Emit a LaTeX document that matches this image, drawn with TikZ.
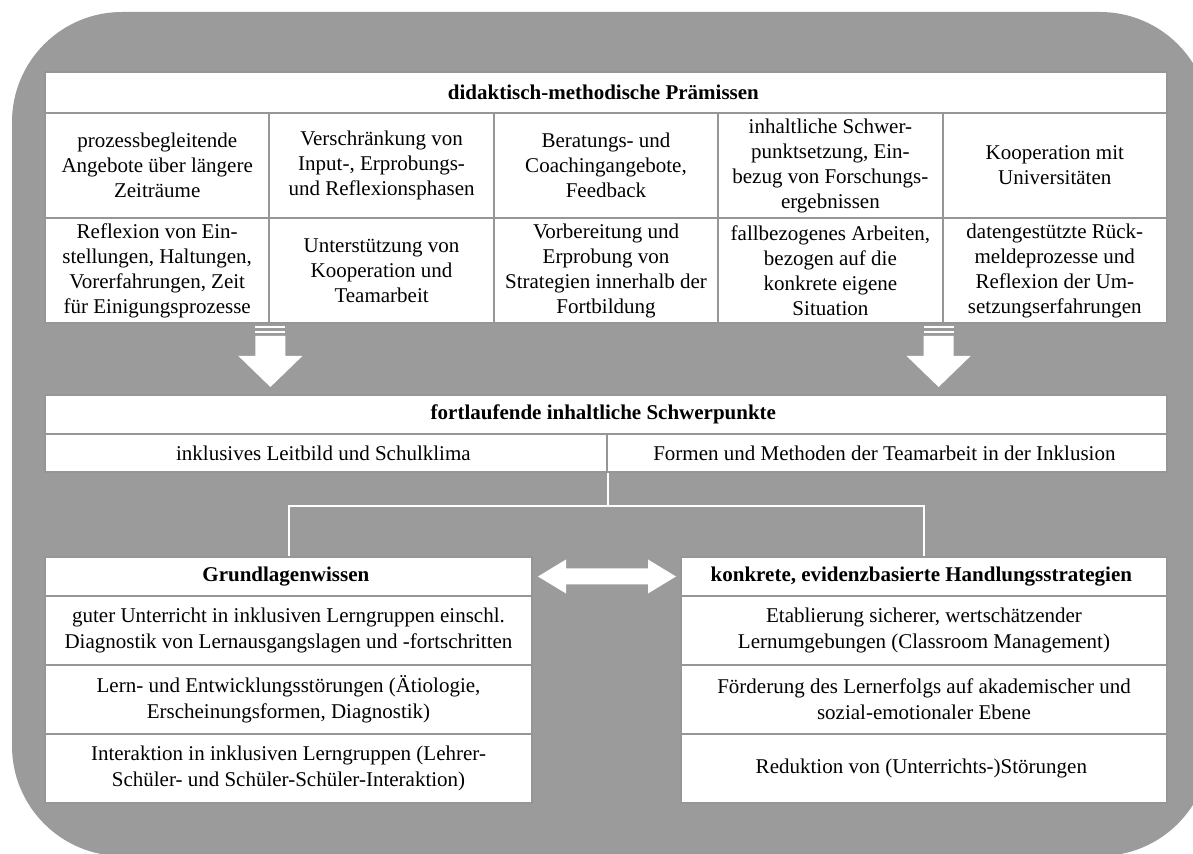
\documentclass[tikz,border=0pt]{standalone}
\usepackage{fontspec}
\setmainfont{Liberation Serif}
\usepackage{tikz}
\usetikzlibrary{positioning}
\usetikzlibrary{calc}
\usepackage{color}
\definecolor{bggrey}{RGB}{155,155,155}
\definecolor{linegrey}{RGB}{150,150,150}

\begin{document}
\begin{tikzpicture}[x=0.5pt, y=-0.5pt,
    cell/.style={rectangle, draw=linegrey, line width=1pt, fill=white, inner sep=0pt,
        align=center, font=\fontsize{10.5}{12.5}\selectfont},
    topcell/.style={cell, minimum width=112.2pt},
    wide/.style={cell, font=\fontsize{10.5}{13}\selectfont},
    conn/.style={white, line width=1pt}]
    \useasboundingbox (0,0) rectangle (1193,854);
    \begin{scope}
        \clip (0,0) rectangle (1193,854);
        \fill[bggrey, rounded corners=55pt] (12,12) rectangle (1210,856);
    \end{scope}

    % didaktisch-methodische Praemissen
    \path
        node (prem) at (606,92.5) [cell, minimum width=561pt, minimum height=20.5pt] { \bf didaktisch-methodische Prämissen }
        node (p11) at (157.2,165.5) [topcell, minimum height=52.5pt] { prozessbegleitende\\Angebote über längere\\Zeiträume }
        node (p12) at (381.6,165.5) [topcell, minimum height=52.5pt] { Verschränkung von\\Input-, Erprobungs-\\und Reflexionsphasen }
        node (p13) at (606,165.5) [topcell, minimum height=52.5pt] { Beratungs- und\\Coachingangebote,\\Feedback }
        node (p14) at (830.4,165.5) [topcell, minimum height=52.5pt] { inhaltliche Schwer-\\punktsetzung, Ein-\\bezug von Forschungs-\\ergebnissen }
        node (p15) at (1054.8,165.5) [topcell, minimum height=52.5pt] { Kooperation mit\\Universitäten };
    \path
        node (p21) at (157.2,270.5) [topcell, minimum height=52.5pt] { Reflexion von Ein-\\stellungen, Haltungen,\\Vorerfahrungen, Zeit\\für Einigungsprozesse }
        node (p22) at (381.6,270.5) [topcell, minimum height=52.5pt] { Unterstützung von\\Kooperation und\\Teamarbeit }
        node (p23) at (606,270.5) [topcell, minimum height=52.5pt] { Vorbereitung und\\Erprobung von\\Strategien innerhalb der\\Fortbildung }
        node (p24) at (830.4,270.5) [topcell, minimum height=52.5pt] { fallbezogenes Arbeiten,\\bezogen auf die\\konkrete eigene\\Situation }
        node (p25) at (1054.8,270.5) [topcell, minimum height=52.5pt] { datengestützte Rück-\\meldeprozesse und\\Reflexion der Um-\\setzungserfahrungen };

    % block arrows down
    \fill[white] ($(p21.south east)+(-15,2)$) rectangle ++(30,2.5);
    \fill[white] ($(p21.south east)+(-15,7)$) rectangle ++(30,2.5);
    \fill[white] ($(p21.south east)+(-15,12)$) -- ++(30,0) -- ++(0,20) -- ++(17,0)
        -- ++(-32,31) -- ++(-32,-31) -- ++(17,0) -- cycle;
    \fill[white] ($(p24.south east)+(-20,2)$) rectangle ++(30,2.5);
    \fill[white] ($(p24.south east)+(-20,7)$) rectangle ++(30,2.5);
    \fill[white] ($(p24.south east)+(-20,12)$) -- ++(30,0) -- ++(0,20) -- ++(17,0)
        -- ++(-32,31) -- ++(-32,-31) -- ++(17,0) -- cycle;

    % fortlaufende Schwerpunkte
    \path
        node (fort) at (606,414.5) [cell, minimum width=561pt, minimum height=19.5pt] { \bf fortlaufende inhaltliche Schwerpunkte }
        node (il) at (326,453) [cell, minimum width=281pt, minimum height=19pt] { inklusives Leitbild und Schulklima }
        node (ir) at (887,453) [cell, minimum width=280pt, minimum height=19pt] { Formen und Methoden der Teamarbeit in der Inklusion };

    % Grundlagenwissen / Handlungsstrategien
    \path
        node (gw) at (288.5,576.5) [wide, minimum width=243.5pt, minimum height=19.5pt] { \bf Grundlagenwissen }
        node (gw1) at (288.5,630.5) [wide, minimum width=243.5pt, minimum height=34.5pt] { guter Unterricht in inklusiven Lerngruppen einschl.\\Diagnostik von Lernausgangslagen und -fortschritten }
        node (gw2) at (288.5,699.5) [wide, minimum width=243.5pt, minimum height=34.5pt] { Lern- und Entwicklungsstörungen (Ätiologie,\\Erscheinungsformen, Diagnostik) }
        node (gw3) at (288.5,768.5) [wide, minimum width=243.5pt, minimum height=34.5pt] { Interaktion in inklusiven Lerngruppen (Lehrer-\\Schüler- und Schüler-Schüler-Interaktion) };
    \path
        node (hs) at (924,576.5) [wide, minimum width=243pt, minimum height=19.5pt] { \bf konkrete, evidenzbasierte Handlungsstrategien }
        node (hs1) at (924,630.5) [wide, minimum width=243pt, minimum height=34.5pt] { Etablierung sicherer, wertschätzender\\Lernumgebungen (Classroom Management) }
        node (hs2) at (924,699.5) [wide, minimum width=243pt, minimum height=34.5pt] { Förderung des Lernerfolgs auf akademischer und\\sozial-emotionaler Ebene }
        node (hs3) at (924,768.5) [wide, minimum width=243pt, minimum height=34.5pt] { Reduktion von (Unterrichts-)Störungen };

    % connectors
    \draw[conn] (il.south east) -- ++(0,33) coordinate (split);
    \draw[conn] (split) -| (gw.north);
    \draw[conn] (split) -| (hs.north);
    %\draw[conn] (fort.south) -- (il.north east);
    \fill[white] ($(gw.east)+(5,0)$) -- ++(28,-17) -- ++(0,9) -- ($(hs.west)+(-32,-8)$)
        -- ++(0,-9) -- ++(28,17) -- ++(-28,17) -- ++(0,-9) -- ($(gw.east)+(33,8)$)
        -- ++(0,9) -- cycle;
\end{tikzpicture}
\end{document}
